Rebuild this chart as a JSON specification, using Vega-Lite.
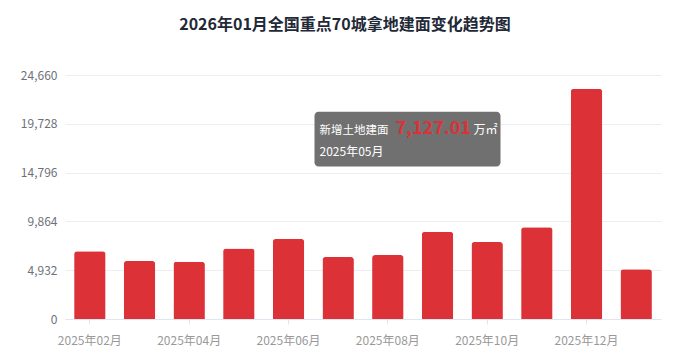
{
  "$schema": "https://vega.github.io/schema/vega-lite/v6.json",
  "autosize": "none",
  "width": 596,
  "height": 244,
  "padding": {"left": 65, "top": 75, "right": 28, "bottom": 42},
  "background": "#ffffff",
  "config": {
    "font": "Noto Sans CJK SC",
    "view": {"stroke": null}
  },
  "title": {
    "text": "2026年01月全国重点70城拿地建面变化趋势图",
    "fontSize": 16,
    "fontWeight": "bold",
    "color": "#1f2937",
    "anchor": "middle",
    "frame": "group",
    "dx": -18,
    "offset": 36
  },
  "datasets": {
    "main": [
      {"month": "2025年02月", "value": 6842},
      {"month": "2025年03月", "value": 5862},
      {"month": "2025年04月", "value": 5791},
      {"month": "2025年05月", "value": 7127.01},
      {"month": "2025年06月", "value": 8086},
      {"month": "2025年07月", "value": 6266},
      {"month": "2025年08月", "value": 6468},
      {"month": "2025年09月", "value": 8823},
      {"month": "2025年10月", "value": 7782},
      {"month": "2025年11月", "value": 9268},
      {"month": "2025年12月", "value": 23280},
      {"month": "2026年01月", "value": 5023}
    ],
    "tip": [
      {"label": "新增土地建面", "value": 7127.01, "unit": "万㎡", "month": "2025年05月"}
    ]
  },
  "encoding": {
    "x": {
      "field": "month",
      "type": "ordinal",
      "sort": null,
      "scale": {
        "domain": ["2025年02月","2025年03月","2025年04月","2025年05月","2025年06月","2025年07月","2025年08月","2025年09月","2025年10月","2025年11月","2025年12月","2026年01月"],
        "paddingInner": 0.367,
        "paddingOuter": 0.1835
      },
      "axis": {
        "title": null,
        "values": ["2025年02月","2025年04月","2025年06月","2025年08月","2025年10月","2025年12月"],
        "labelAngle": 0,
        "labelColor": "#999999",
        "labelFontSize": 12,
        "labelPadding": 11,
        "domainColor": "#e0e6f1",
        "tickColor": "#e0e6f1",
        "tickSize": 5,
        "grid": false
      }
    }
  },
  "layer": [
    {
      "data": {"name": "main"},
      "mark": {"type": "bar", "color": "#dc3136", "cornerRadiusTopLeft": 3, "cornerRadiusTopRight": 3},
      "encoding": {
        "y": {
          "field": "value",
          "type": "quantitative",
          "scale": {"domain": [0, 24660], "nice": false},
          "axis": {
            "title": null,
            "values": [0, 4932, 9864, 14796, 19728, 24660],
            "format": ",d",
            "labelColor": "#6e7079",
            "labelFontSize": 12,
            "labelPadding": 8,
            "domain": false,
            "ticks": false,
            "gridColor": "#eceef4"
          }
        }
      }
    },
    {
      "data": {"name": "tip"},
      "mark": {"type": "bar", "fill": "#707070", "width": 186, "xOffset": -30, "cornerRadius": 4},
      "encoding": {
        "x": {"datum": "2025年09月"},
        "y": {"datum": 20950},
        "y2": {"datum": 15400}
      }
    },
    {
      "data": {"name": "tip"},
      "mark": {"type": "text", "align": "left", "baseline": "alphabetic", "dx": -118, "fontSize": 11.5, "color": "#ffffff"},
      "encoding": {
        "x": {"datum": "2025年09月"},
        "y": {"datum": 18700},
        "text": {"field": "label"}
      }
    },
    {
      "data": {"name": "tip"},
      "mark": {"type": "text", "align": "left", "baseline": "alphabetic", "dx": -42, "fontSize": 18, "fontWeight": "bold", "color": "#dc3136"},
      "encoding": {
        "x": {"datum": "2025年09月"},
        "y": {"datum": 18650},
        "text": {"field": "value", "type": "quantitative", "format": ",.2f"}
      }
    },
    {
      "data": {"name": "tip"},
      "mark": {"type": "text", "align": "left", "baseline": "alphabetic", "dx": 36, "fontSize": 12, "color": "#ffffff"},
      "encoding": {
        "x": {"datum": "2025年09月"},
        "y": {"datum": 18700},
        "text": {"field": "unit"}
      }
    },
    {
      "data": {"name": "tip"},
      "mark": {"type": "text", "align": "left", "baseline": "alphabetic", "dx": -118, "fontSize": 12, "color": "#ffffff"},
      "encoding": {
        "x": {"datum": "2025年09月"},
        "y": {"datum": 16450},
        "text": {"field": "month"}
      }
    }
  ]
}
